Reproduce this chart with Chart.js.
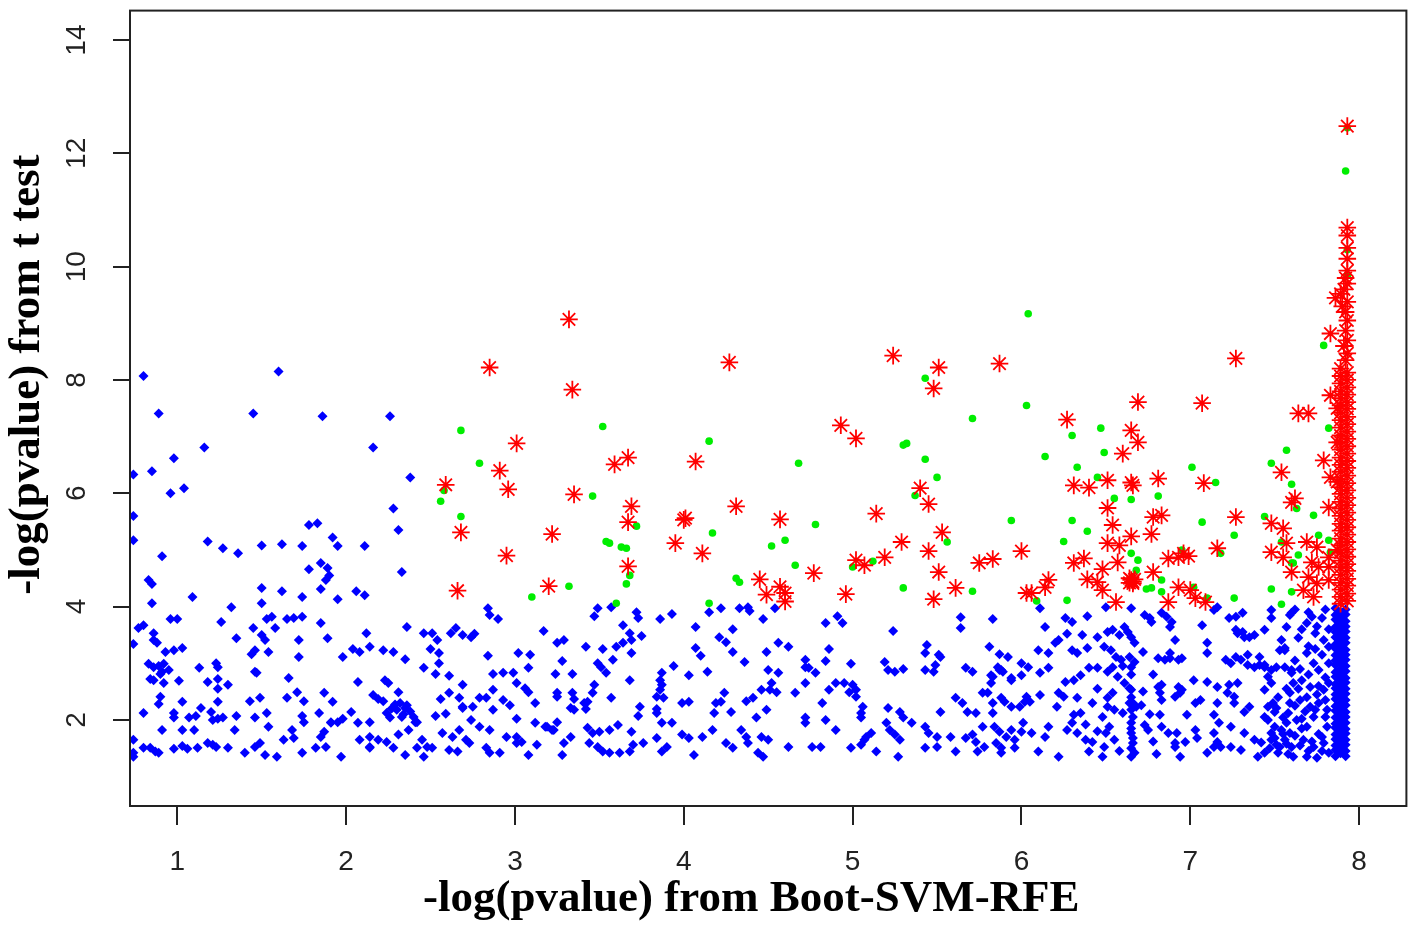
<!DOCTYPE html>
<html>
<head>
<meta charset="utf-8">
<script src="https://cdn.jsdelivr.net/npm/chart.js@4.4.1/dist/chart.umd.min.js"></script>
<style>
  html, body { margin: 0; padding: 0; background: #ffffff; }
  canvas { display: block; }
</style>
</head>
<body>
<canvas id="c" width="1417" height="926"></canvas>
<script>
// ---------------- data ----------------
const xTickValues = [1, 2, 3, 4, 5, 6, 7, 8];
const yTickValues = [2, 4, 6, 8, 10, 12, 14];
const xLimits = [0.72, 8.28];
const yLimits = [0.48, 14.52];
const xTitle = "-log(pvalue) from Boot-SVM-RFE";
const yTitle = "-log(pvalue) from t test";

// blue: not significant in t test
const bluePoints = [
[0.8,8.07],[1.6,8.15],[0.89,7.41],[1.45,7.41],[1.86,7.36],[2.26,7.36],[1.16,6.81],[2.16,6.81],[0.98,6.62],[0.85,6.39],[0.74,6.33],[2.38,6.28],[1.04,6.09],[0.96,6.0],[0.74,5.6],[2.28,5.73],[1.78,5.44],[1.83,5.47],[2.31,5.35],[0.74,5.17],[1.18,5.15],[1.27,5.03],[1.36,4.94],[1.5,5.08],[1.62,5.1],[1.74,5.07],[1.92,5.22],[1.95,5.07],[2.11,5.07],[0.91,4.89],[2.33,4.61],[1.78,4.66],[1.85,4.77],[1.89,4.68],[1.9,4.55],[1.88,4.47],[0.83,4.47],[0.85,4.4],[1.85,4.31],[1.5,4.33],[1.62,4.27],[1.74,4.17],[1.95,4.13],[2.06,4.27],[2.11,4.2],[1.09,4.17],[0.85,4.06],[1.32,3.99],[1.5,4.06],
[0.8,3.67],[0.77,3.62],[0.96,3.78],[1.0,3.78],[1.26,3.73],[1.53,3.78],[1.56,3.82],[1.65,3.78],[1.69,3.8],[1.74,3.82],[1.85,3.71],[2.84,3.97],[2.85,3.85],[2.9,3.78],[2.36,3.64],[2.46,3.53],[2.51,3.53],[2.54,3.41],[2.62,3.53],[2.65,3.62],[2.69,3.5],[2.74,3.46],[2.76,3.52],[3.17,3.57],[3.25,3.36],[3.29,3.41],[2.12,3.53],[0.86,3.53],[0.86,3.41],[0.88,3.36],[0.74,3.34],[1.35,3.44],[1.45,3.62],[1.5,3.5],[1.52,3.41],[1.58,3.62],[1.72,3.41],[1.89,3.44],[0.93,3.2],[0.98,3.23],[1.03,3.27],[1.46,3.23],[1.44,3.16],[1.54,3.2],[1.72,3.11],[1.98,3.11],[2.04,3.25],[2.08,3.2],[2.14,3.29],[2.22,3.23],[2.28,3.2],[2.35,3.07],[2.46,2.92],[2.5,3.25],[2.55,3.18],[2.55,3.0],[2.84,3.13],[3.02,3.18],[3.09,3.15],[3.08,2.92],[3.28,3.04],
[0.83,2.99],[0.86,2.93],[0.89,2.95],[0.92,2.99],[0.91,2.85],[0.95,2.88],[0.9,2.81],[1.13,2.92],[1.23,3.0],[1.24,2.93],[1.46,2.85],[1.47,2.83],[1.66,2.74],[2.87,2.81],[2.93,2.83],[2.99,2.83],[3.24,2.81],[3.34,2.81],[2.53,2.81],[2.61,2.78],[0.84,2.72],[0.86,2.7],[0.92,2.65],[1.01,2.69],[1.18,2.67],[1.24,2.72],[1.24,2.55],[1.3,2.62],[2.07,2.67],[2.23,2.7],[2.25,2.65],[2.69,2.62],[3.01,2.65],[3.06,2.56],[3.08,2.49],[3.25,2.48],[3.34,2.48],[3.35,2.37],
[0.9,2.41],[0.89,2.28],[1.03,2.32],[1.24,2.32],[1.43,2.33],[1.49,2.39],[1.65,2.39],[1.71,2.49],[1.75,2.33],[1.87,2.48],[1.92,2.32],[2.16,2.44],[2.19,2.37],[2.22,2.33],[2.31,2.49],[2.56,2.37],[2.61,2.48],[2.67,2.39],[2.69,2.23],[2.75,2.23],[2.79,2.39],[2.83,2.39],[2.87,2.53],[2.93,2.35],[2.97,2.26],[3.12,2.3],[3.25,2.41],
[2.29,2.27],[2.32,2.3],[2.36,2.26],[2.38,2.15],[2.34,2.1],[2.4,2.05],[2.27,2.2],
[0.8,2.12],[0.98,2.12],[0.98,2.04],[1.07,2.04],[1.11,2.07],[1.14,2.21],[1.2,2.14],[1.21,2.0],[1.24,2.02],[1.27,2.04],[1.35,2.07],[1.46,2.04],[1.53,2.12],[1.74,2.07],[1.75,1.96],[1.84,2.12],[1.91,1.96],[1.95,1.96],[1.98,2.02],[2.03,2.14],[2.14,1.96],[2.24,2.12],[2.26,2.04],[2.3,2.18],[2.33,2.05],[2.35,2.21],[2.41,1.96],[2.53,2.07],[2.59,2.11],[2.69,2.21],[2.74,2.0],[2.87,2.18],[3.01,2.02],[3.12,1.95],[3.19,1.88],[3.23,1.82],[3.25,1.96],[3.33,2.21],[3.35,2.18],
[0.91,1.82],[1.03,1.82],[1.1,1.82],[1.34,1.82],[1.54,1.88],[1.63,1.65],[1.68,1.82],[1.69,1.68],[1.87,1.79],[1.91,1.95],[1.85,1.7],[2.07,1.95],[2.08,1.65],[2.14,1.7],[2.14,1.52],[2.19,1.65],[2.24,1.61],[2.31,1.74],[2.37,1.82],[2.42,1.96],[2.45,1.65],[2.57,1.77],[2.63,1.7],[2.67,1.82],[2.71,1.65],[2.73,1.59],[2.79,1.88],[2.85,1.82],[2.95,1.7],[3.01,1.7],[3.04,1.61],[3.13,1.56],[3.18,1.88],[3.22,1.82],[3.33,1.7],
[0.74,1.65],[0.8,1.51],[0.84,1.51],[0.87,1.44],[0.89,1.42],[0.98,1.49],[1.03,1.54],[1.06,1.49],[1.12,1.51],[1.18,1.59],[1.21,1.56],[1.23,1.52],[1.3,1.51],[1.4,1.42],[1.46,1.52],[1.49,1.59],[1.52,1.38],[1.59,1.35],[1.74,1.42],[1.82,1.51],[1.88,1.52],[1.97,1.35],[2.14,1.51],[2.28,1.51],[2.35,1.38],[2.42,1.51],[2.46,1.35],[2.48,1.52],[2.51,1.51],[2.61,1.47],[2.66,1.44],[2.83,1.51],[2.85,1.42],[2.91,1.42],[3.01,1.59],[3.08,1.38],[3.29,1.59],[3.28,1.38],[0.74,1.42],[0.74,1.35],
[3.49,3.97],[3.57,3.99],[3.47,3.83],[3.72,3.9],[3.73,3.8],[3.86,3.78],[3.93,3.87],[4.15,3.9],[4.22,3.97],[4.33,3.97],[4.38,3.99],[4.39,3.92],[4.47,3.78],[4.54,3.97],[4.84,3.71],[4.91,3.83],[4.94,3.71],[5.24,3.57],[5.64,3.81],[5.64,3.62],[5.83,3.78],[3.64,3.67],[3.68,3.53],[3.69,3.41],[3.6,3.29],[3.64,3.36],[3.75,3.48],[4.07,3.64],[4.21,3.46],[4.25,3.37],[4.29,3.6],[4.56,3.36],[4.62,3.29],[3.42,3.29],[3.52,3.25],[3.69,3.18],[4.07,3.27],[4.1,3.13],[4.29,3.2],[4.49,3.2],[4.86,3.25],[4.84,3.04],[5.44,3.32],[5.43,3.18],[5.51,3.15],[5.52,3.11],[5.81,3.29],[5.87,3.16],[6.0,3.0],
[3.49,3.0],[3.51,2.93],[3.58,3.06],[3.54,2.83],[3.94,2.95],[4.03,2.79],[4.14,2.85],[4.36,3.02],[4.5,2.88],[4.56,2.83],[4.72,3.06],[4.72,2.93],[4.74,2.92],[4.78,2.83],[4.99,2.99],[5.19,3.02],[5.21,2.88],[5.25,2.85],[5.3,2.9],[5.43,2.88],[5.48,2.85],[5.49,2.97],[5.67,2.92],[5.71,2.85],[5.82,2.79],[5.87,2.88],[5.89,2.85],[3.68,2.7],[3.87,2.83],[3.86,2.7],[3.87,2.62],[3.47,2.62],[3.46,2.48],[3.43,2.32],[4.52,2.65],[4.51,2.53],[4.72,2.65],[4.9,2.65],[4.95,2.65],[5.0,2.62],[5.02,2.53],[5.02,2.41],[4.98,2.49],[5.83,2.76],[5.82,2.65],[5.94,2.7],[6.0,2.79],
[4.46,2.53],[4.55,2.49],[4.66,2.48],[4.86,2.53],[3.86,2.53],[3.84,2.41],[3.88,2.39],[4.24,2.48],[4.22,2.32],[4.19,2.3],[4.37,2.33],[4.41,2.39],[5.61,2.39],[5.65,2.3],[5.68,2.14],[5.77,2.48],[5.8,2.48],[5.83,2.3],[5.88,2.39],[5.9,2.32],[6.02,2.32],[3.57,2.39],[3.41,2.3],[3.42,2.19],[3.74,2.23],[3.73,2.07],[3.84,2.19],[3.84,2.12],[3.99,2.3],[4.03,2.32],[4.18,2.12],[4.28,2.14],[4.49,2.18],[4.43,2.04],[4.82,2.3],[5.06,2.23],[5.05,2.12],[5.05,2.04],[5.21,2.21],[5.28,2.14],[5.3,2.04],[5.52,2.14],[5.73,2.12],[5.83,2.12],[5.94,2.23],
[3.43,1.86],[3.46,1.77],[3.5,1.79],[3.56,1.82],[3.61,1.91],[3.69,1.79],[3.87,1.95],[3.93,1.95],[3.99,1.74],[4.03,1.68],[4.11,1.7],[4.17,1.82],[4.34,1.82],[4.37,1.7],[4.38,1.59],[4.46,1.7],[4.5,1.65],[4.72,1.95],[4.72,2.04],[4.84,2.0],[4.9,1.82],[5.08,1.7],[5.11,1.77],[5.2,1.95],[5.22,1.82],[5.25,1.74],[5.28,1.65],[5.35,1.95],[5.43,1.88],[5.45,1.77],[5.5,1.7],[5.58,1.7],[5.67,1.68],[5.71,1.74],[5.73,1.61],[5.77,1.88],[5.84,1.88],[5.87,1.79],[5.91,1.7],[5.94,1.82],[6.0,1.79],
[3.44,1.59],[3.49,1.52],[3.52,1.44],[3.56,1.42],[3.62,1.42],[3.68,1.44],[3.7,1.56],[3.76,1.59],[3.84,1.68],[3.9,1.52],[3.87,1.44],[4.06,1.38],[4.25,1.59],[4.29,1.51],[4.44,1.42],[4.47,1.35],[4.62,1.52],[4.76,1.52],[4.81,1.52],[4.99,1.51],[5.05,1.56],[5.07,1.65],[5.14,1.44],[5.27,1.35],[5.43,1.51],[5.5,1.52],[5.61,1.44],[5.74,1.44],[5.78,1.52],[5.85,1.59],[5.88,1.51],[5.96,1.51],
[6.11,3.97],[6.26,3.8],[6.3,3.73],[6.39,3.83],[6.14,3.64],[6.5,3.99],[6.65,3.97],[6.73,3.85],[6.76,3.8],[6.77,3.73],[6.83,3.89],[6.86,3.82],[6.89,3.73],[6.88,3.64],[7.07,3.67],[7.14,3.94],[7.16,3.99],[7.23,3.8],[7.27,3.82],[7.31,3.89],[7.48,3.94],[7.6,3.89],[7.48,3.8],[6.22,3.41],[6.2,3.36],[6.27,3.52],[6.36,3.5],[6.45,3.46],[6.51,3.55],[6.54,3.59],[6.58,3.5],[6.61,3.64],[6.63,3.55],[6.65,3.46],[6.67,3.36],[6.91,3.41],[7.1,3.36],[7.27,3.59],[7.31,3.55],[7.32,3.46],[7.35,3.46],[7.38,3.5],[7.44,3.59],[7.54,3.41],[7.57,3.64],
[5.92,3.11],[6.1,3.23],[6.16,3.18],[6.3,3.23],[6.33,3.18],[6.39,3.27],[6.49,3.29],[6.53,3.23],[6.56,3.11],[6.59,3.06],[6.64,3.11],[6.67,3.02],[6.65,2.93],[6.81,3.09],[6.85,3.06],[6.88,3.09],[6.93,3.06],[6.95,3.09],[6.88,3.18],[7.1,3.18],[7.21,3.06],[7.24,3.0],[7.27,3.11],[7.34,3.15],[7.44,2.97],[7.53,3.23],[7.56,3.27],[5.88,2.88],[6.04,2.93],
[6.11,2.83],[6.16,2.92],[6.26,2.67],[6.31,2.7],[6.35,2.79],[6.4,2.92],[6.45,2.92],[6.51,2.85],[6.54,2.93],[6.57,2.76],[6.61,2.65],[6.64,2.56],[6.65,2.53],[6.51,2.39],[6.54,2.48],[6.81,2.58],[6.83,2.62],[6.93,2.58],[6.95,2.53],[7.02,2.7],[7.1,2.67],[7.16,2.58],[7.23,2.62],[7.28,2.65],[7.38,2.93],[7.41,2.97],[7.48,2.88],[7.51,2.93],[7.46,2.76],[7.6,2.83],[5.94,2.74],[5.86,2.93],
[6.03,2.41],[5.99,2.23],[6.05,2.32],[6.11,2.44],[6.22,2.48],[6.25,2.41],[6.21,2.23],[6.33,2.39],[6.35,2.12],[6.31,2.09],[6.51,2.23],[6.55,2.18],[6.6,2.12],[6.64,2.3],[6.65,2.18],[6.66,2.05],[6.68,2.23],[6.71,2.26],[6.82,2.48],[6.83,2.35],[6.91,2.41],[6.94,2.48],[7.03,2.3],[7.06,2.35],[7.16,2.3],[7.26,2.41],[7.32,2.14],[7.35,2.23],[7.46,2.23],[7.49,2.3],[7.51,2.21],[7.59,2.3],[6.82,2.09],[6.98,2.09],
[5.96,1.65],[6.01,1.95],[6.06,1.77],[6.16,1.88],[6.14,1.7],[6.27,1.82],[6.3,1.95],[6.33,1.77],[6.38,1.65],[6.42,1.61],[6.4,1.44],[6.5,1.77],[6.52,1.88],[6.65,1.95],[6.65,1.77],[6.66,1.59],[6.67,1.42],[6.73,1.91],[6.75,1.82],[6.83,1.88],[6.87,1.77],[6.91,1.52],[6.97,1.61],[7.03,1.82],[7.04,1.68],[7.14,1.77],[7.16,1.61],[7.18,1.52],[7.24,1.88],[7.32,1.77],[7.38,1.65],[7.46,2.0],[7.5,1.88],[7.54,1.82],[7.57,1.95],[7.59,1.77],[7.48,1.65],[7.51,1.56],[7.56,1.65],[7.6,1.52],[5.88,1.42],[6.1,1.44],[6.22,1.35],
[6.65,2.8],[6.65,2.4],[6.66,2.3],[6.65,1.85],[6.66,1.68],[6.65,1.5],
[6.45,2.55],[6.42,2.3],[6.48,2.05],[6.38,1.92],[6.45,1.8],[6.55,1.65],[6.58,1.45],[6.6,2.95],[6.72,3.2],[6.78,2.8],[6.72,2.5],[6.76,2.1],[6.78,1.62],[6.8,1.4],
[7.59,3.85],[7.69,3.71],[7.74,3.53],[7.79,3.41],[7.82,3.29],[7.69,3.18],[7.73,3.0],[7.76,2.88],[7.66,2.7],[7.71,2.58],[7.79,2.53],[7.65,2.35],[7.71,2.23],[7.76,2.3],[7.81,2.18],[7.63,2.0],[7.69,1.88],[7.73,2.05],[7.81,1.88],[7.67,1.65],[7.73,1.52],[7.79,1.59],[7.82,1.42],[7.61,1.35],[7.69,1.35],[7.75,1.33],[7.4,1.35],[7.44,1.42],[7.53,1.52],[7.3,1.47],[7.24,1.52],[7.1,1.42],[7.14,1.52],[6.94,1.35],[6.91,1.59],[6.92,1.77],[6.65,1.35],[6.48,1.35],[6.49,1.52],[7.44,2.05],[7.5,2.14],[7.55,2.04],[7.48,1.77],[7.44,2.53],[7.48,2.65],[7.59,2.48],[7.61,2.65],[7.56,2.93],[7.6,2.88],[7.41,3.11],[7.44,2.93],[7.56,3.23],[7.3,3.06],[7.34,2.97],[7.28,3.53],[7.22,2.48],[7.26,2.3],[7.14,2.09],[7.17,1.95],
[7.62,3.95],[7.7,3.9],[7.78,3.8],[7.8,3.95],[7.75,3.65],[7.64,3.45],[7.7,3.3],[7.78,3.15],[7.62,3.05],[7.8,2.75],[7.7,2.8],[7.64,2.55],[7.75,2.45],[7.8,2.35],[7.68,2.15],[7.62,2.25],[7.8,2.05],[7.76,1.75],[7.66,1.85],[7.62,1.72],[7.7,1.45],[7.78,1.45],[7.58,1.4],[7.55,1.75],
[7.52,1.42],[7.47,1.5],[7.42,1.6],[7.5,1.68],[7.57,1.58],[7.65,1.55],[7.72,1.62],[7.78,1.7],[7.58,2.12],[7.66,2.02],[7.74,2.18],[7.52,2.4],[7.57,2.55],[7.69,2.4],[7.76,2.6],[7.82,2.65],[7.65,2.9],[7.82,3.0],[7.74,3.25],[7.66,3.6],[7.82,3.6],[7.72,3.82],
[7.86,1.36],[7.86,1.47],[7.86,1.55],[7.86,1.66],[7.86,1.74],[7.86,1.86],[7.86,1.93],[7.86,2.04],[7.86,2.16],[7.86,2.24],[7.86,2.37],[7.86,2.45],[7.86,2.56],[7.86,2.63],[7.86,2.76],[7.86,2.84],[7.86,2.97],[7.86,3.05],[7.86,3.14],[7.86,3.26],[7.86,3.33],[7.86,3.46],[7.86,3.55],[7.86,3.64],[7.86,3.77],[7.86,3.85],[7.86,3.97],
[7.89,1.41],[7.89,1.51],[7.89,1.6],[7.89,1.71],[7.89,1.8],[7.89,1.9],[7.89,1.99],[7.89,2.1],[7.89,2.2],[7.89,2.3],[7.89,2.41],[7.89,2.5],[7.89,2.6],[7.89,2.7],[7.89,2.8],[7.89,2.9],[7.89,3.01],[7.89,3.1],[7.89,3.2],[7.89,3.3],[7.89,3.4],[7.89,3.5],[7.89,3.6],[7.89,3.7],[7.89,3.8],[7.89,3.9],
[7.92,1.36],[7.92,1.45],[7.92,1.56],[7.92,1.65],[7.92,1.76],[7.92,1.84],[7.92,1.95],[7.92,2.05],[7.92,2.14],[7.92,2.26],[7.92,2.35],[7.92,2.46],[7.92,2.55],[7.92,2.66],[7.92,2.74],[7.92,2.86],[7.92,2.95],[7.92,3.06],[7.92,3.15],[7.92,3.24],[7.92,3.36],[7.92,3.45],[7.92,3.56],[7.92,3.65],[7.92,3.74],[7.92,3.86],[7.92,3.95]
];

// green: significant in t test only
const greenPoints = [
[2.68,7.11],[3.52,7.18],[4.15,6.92],[2.79,6.53],[2.56,5.86],[2.58,6.05],[2.68,5.59],[3.46,5.95],[3.72,5.42],[4.17,5.3],[3.54,5.15],[3.56,5.12],[3.63,5.05],[3.66,5.03],[4.52,5.07],[4.6,5.17],[4.66,4.73],[4.68,6.53],[3.68,4.55],[3.66,4.4],[3.32,4.36],[3.1,4.17],[4.31,4.5],[4.33,4.43],[4.15,4.06],[3.6,4.06],
[5.3,6.85],[5.32,6.88],[5.43,8.03],[5.71,7.32],[5.43,6.6],[5.5,6.28],[6.03,7.55],[5.37,5.96],[4.78,5.45],[5.56,5.14],[5.94,5.52],[5.12,4.8],[5.0,4.7],[5.3,4.33],[5.71,4.27],[6.04,9.17],
[6.3,7.02],[6.47,7.15],[6.14,6.65],[6.49,6.72],[6.33,6.46],[6.45,6.28],[7.01,6.46],[7.15,6.19],[7.57,6.76],[7.48,6.53],[7.6,6.16],[6.55,5.91],[6.65,5.89],[6.81,5.95],[6.3,5.52],[6.39,5.33],[6.25,5.15],[7.07,5.49],[7.26,5.26],[7.44,5.59],[7.54,5.14],[7.6,4.77],[6.65,4.94],[6.69,4.82],[6.68,4.64],[6.83,4.47],[6.83,4.26],[6.74,4.31],[6.77,4.33],[6.95,5.0],[7.18,4.94],[6.27,4.11],[6.09,4.1],[7.26,4.15],[7.48,4.31],[7.54,4.04],[7.02,4.34],[7.1,4.15],
[7.92,11.69],[7.79,8.61],[7.82,7.15],[7.63,5.73],[7.73,5.61],[7.76,5.26],[7.64,4.91],[7.61,4.77],[7.83,4.96],[7.6,4.26],[7.82,5.17],[7.93,12.45],[7.93,10.3],[7.93,9.85]
];

// red: significant in both tests
const redPoints = [
[2.59,6.15],[2.66,4.28],[2.68,5.31],[2.85,8.22],[2.91,6.4],[2.96,6.07],[2.95,4.9],[3.01,6.88],[3.2,4.36],[3.22,5.28],[3.32,9.07],[3.34,7.83],[3.35,5.98],[3.59,6.51],[3.67,6.63],[3.69,5.77],[3.67,5.49],[3.67,4.71],[4.27,8.31],[4.07,6.56],[4.31,5.77],[4.01,5.56],[4.0,5.53],[4.57,5.54],[3.95,5.12],[4.11,4.94],[4.45,4.48],[4.49,4.21],[4.57,4.35],[4.6,4.24],[4.6,4.09],
[5.24,8.43],[5.51,8.22],[5.87,8.29],[5.48,7.85],[4.93,7.2],[5.02,6.97],[5.14,5.64],[5.4,6.09],[5.45,5.81],[5.53,5.31],[5.29,5.14],[5.45,4.98],[6.0,4.98],[5.19,4.87],[5.02,4.82],[5.07,4.73],[5.51,4.61],[4.77,4.59],[4.96,4.22],[5.61,4.33],[5.48,4.13],[6.03,4.24],[5.75,4.77],[5.83,4.84],
[6.69,7.61],[7.07,7.59],[7.64,7.41],[7.7,7.41],[6.27,7.3],[6.65,7.11],[6.69,6.9],[6.6,6.7],[6.31,6.14],[6.4,6.1],[6.51,6.23],[6.65,6.19],[6.66,6.14],[6.81,6.26],[7.08,6.18],[7.54,6.37],[7.6,5.84],[6.51,5.74],[6.54,5.44],[6.78,5.58],[6.83,5.61],[6.77,5.28],[6.65,5.24],[7.27,5.58],[7.48,5.47],[7.55,5.38],[7.57,5.12],[7.48,4.96],[7.55,4.87],[7.6,4.61],[6.51,5.12],[6.58,5.08],[6.31,4.77],[6.37,4.85],[6.57,4.78],[6.78,4.61],[6.87,4.85],[6.93,4.87],[6.99,4.89],[6.96,4.94],[7.16,5.03],[6.48,4.66],[6.39,4.48],[6.45,4.43],[6.48,4.29],[6.64,4.42],[6.65,4.47],[6.66,4.44],[6.64,4.5],[6.67,4.48],[6.66,4.41],[6.93,4.34],[7.0,4.29],[7.03,4.15],[7.09,4.08],[6.87,4.08],[6.56,4.08],[6.06,4.24],[6.16,4.47],[6.14,4.34],[7.27,8.38],
[7.93,12.48],[7.83,8.82],[7.83,7.73],[7.79,6.58],[7.83,6.28],[7.62,5.91],[7.82,5.75],[7.69,5.14],[7.75,5.05],[7.72,4.78],[7.76,4.7],[7.7,4.52],[7.75,4.41],[7.67,4.29],[7.73,4.17],[7.82,4.87],[7.82,4.7],[7.82,4.47],[7.86,9.45],[7.89,9.52],
[7.89,4.05],[7.89,4.17],[7.89,4.3],[7.89,4.42],[7.89,4.56],[7.89,4.69],[7.89,4.81],[7.89,4.95],[7.89,5.08],[7.89,5.2],[7.89,5.34],[7.89,5.46],[7.89,5.6],[7.89,5.73],[7.89,5.85],[7.89,5.99],[7.89,6.11],[7.89,6.25],[7.89,6.38],[7.89,6.5],[7.89,6.63],[7.89,6.77],[7.89,6.9],[7.89,7.02],[7.89,7.16],[7.89,7.29],[7.89,7.42],[7.89,7.55],[7.89,7.68],[7.89,7.8],[7.89,7.94],[7.89,8.07],[7.89,8.2],
[7.93,4.1],[7.93,4.23],[7.93,4.37],[7.93,4.49],[7.93,4.63],[7.93,4.75],[7.93,4.88],[7.93,5.01],[7.93,5.14],[7.93,5.27],[7.93,5.4],[7.93,5.53],[7.93,5.66],[7.93,5.79],[7.93,5.92],[7.93,6.05],[7.93,6.18],[7.93,6.31],[7.93,6.45],[7.93,6.57],[7.93,6.7],[7.93,6.83],[7.93,6.96],[7.93,7.09],[7.93,7.22],[7.93,7.35],[7.93,7.49],[7.93,7.61],[7.93,7.74],[7.93,7.87],[7.93,8.0],[7.93,8.13],
[7.87,5.0],[7.87,6.2],[7.87,6.9],[7.87,7.5],
[7.92,8.35],[7.93,8.47],[7.91,8.6],[7.93,8.7],[7.92,8.87],[7.93,9.05],[7.92,9.2],[7.9,9.3],[7.93,9.38],[7.91,9.6],[7.93,9.7],[7.92,9.8],[7.93,9.93],[7.93,10.14],[7.93,10.33],[7.93,10.55],[7.93,10.69]
];

// ---------------- chart ----------------
const toXY = arr => arr.map(p => ({x: p[0], y: p[1]}));
const axisColor = '#222222';
const tickFont = {family: 'Liberation Sans', size: 28};
const titleFont = {family: 'Liberation Serif', size: 45, weight: 'bold'};

const framePlugin = {
  id: 'frame',
  afterDraw(chart) {
    const {ctx, chartArea: a} = chart;
    ctx.save();
    ctx.strokeStyle = axisColor;
    ctx.lineWidth = 2;
    ctx.strokeRect(a.left, a.top, a.right - a.left, a.bottom - a.top);
    ctx.restore();
  }
};

new Chart(document.getElementById('c'), {
  type: 'scatter',
  data: {
    datasets: [
      {label: 'both', data: toXY(redPoints), pointStyle: 'star', pointRadius: 8.8,
       borderColor: '#ff0000', backgroundColor: '#ff0000', borderWidth: 1.8, order: 1},
      {label: 't test only', data: toXY(greenPoints), pointStyle: 'circle', pointRadius: 3.8,
       backgroundColor: '#00ee00', borderColor: '#00ee00', borderWidth: 0, order: 2},
      {label: 'none', data: toXY(bluePoints), pointStyle: 'rectRot', pointRadius: 5,
       backgroundColor: '#0000ff', borderColor: '#0000ff', borderWidth: 0, order: 3}
    ]
  },
  options: {
    responsive: false,
    animation: false,
    devicePixelRatio: 1,
    events: [],
    layout: {padding: {top: 9, right: 7, left: 0, bottom: 0}},
    plugins: {legend: {display: false}, tooltip: {enabled: false}},
    scales: {
      x: {
        type: 'linear', position: 'bottom', min: xLimits[0], max: xLimits[1],
        afterBuildTicks: s => { s.ticks = xTickValues.map(v => ({value: v})); },
        afterFit: s => { s.height = 120; s.paddingLeft = 0; s.paddingRight = 0; },
        ticks: {font: tickFont, color: axisColor, padding: 20, maxRotation: 0, minRotation: 0,
                callback: v => String(v)},
        grid: {display: true, drawOnChartArea: false, drawTicks: true, tickLength: 19,
               color: axisColor, lineWidth: 2},
        border: {display: true, color: axisColor, width: 2},
        title: {display: true, text: xTitle + '   ', font: titleFont, color: '#000000',
                padding: {top: 0, bottom: 0}}
      },
      y: {
        type: 'linear', position: 'left', min: yLimits[0], max: yLimits[1],
        afterBuildTicks: s => { s.ticks = yTickValues.map(v => ({value: v})); },
        afterFit: s => { s.width = 130; s.paddingTop = 0; s.paddingBottom = 0; },
        ticks: {font: tickFont, color: axisColor, padding: 20, minRotation: 90, maxRotation: 90,
                crossAlign: 'center', callback: v => String(v)},
        grid: {display: true, drawOnChartArea: false, drawTicks: true, tickLength: 17,
               color: axisColor, lineWidth: 2},
        border: {display: true, color: axisColor, width: 2},
        title: {display: true, text: '      ' + yTitle, font: titleFont, color: '#000000',
                padding: {top: 0, bottom: 0}}
      }
    }
  },
  plugins: [framePlugin]
});
</script>
</body>
</html>
